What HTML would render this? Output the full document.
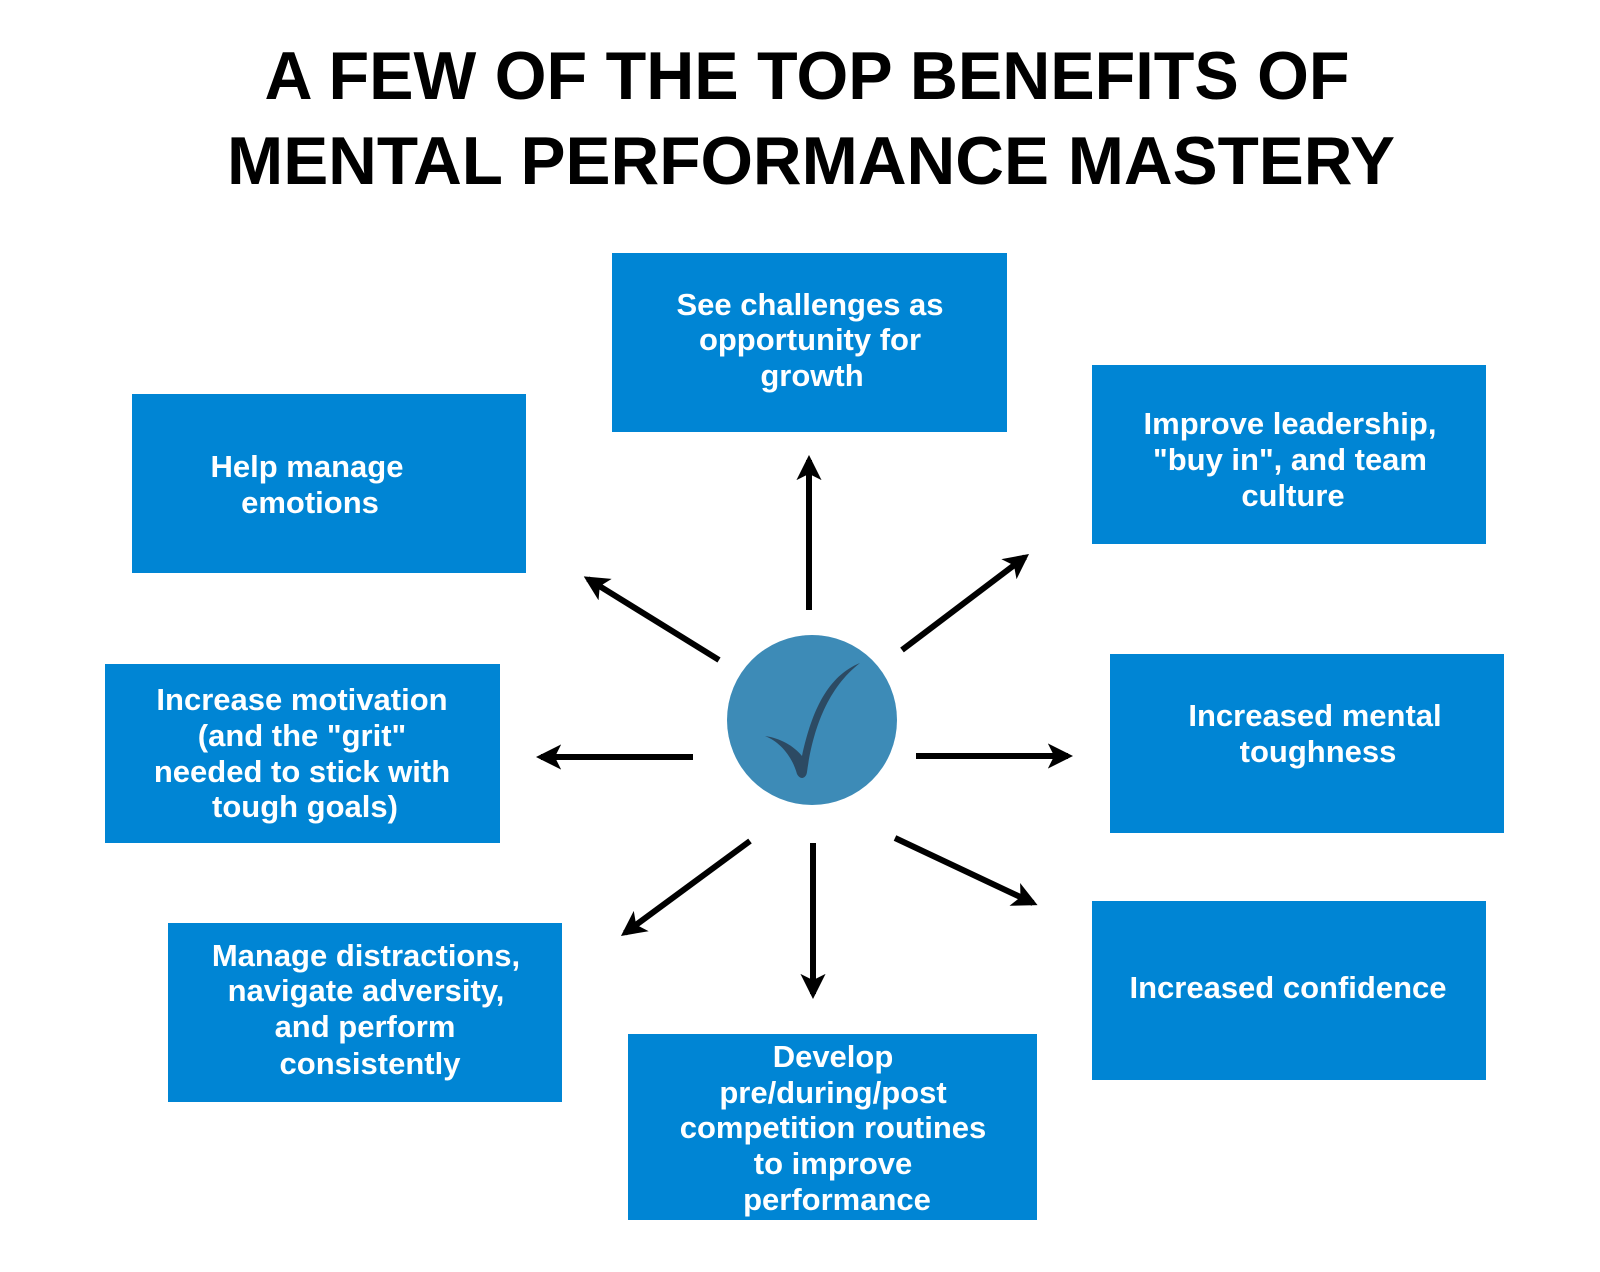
<!DOCTYPE html>
<html><head><meta charset="utf-8"><style>
html,body{margin:0;padding:0;background:#fff;}
svg{display:block;}
</style></head><body>
<svg width="1600" height="1272" viewBox="0 0 1600 1272" xmlns="http://www.w3.org/2000/svg" font-family="'Liberation Sans', sans-serif">
<defs>
<marker id="ah" viewBox="0 0 10 10" refX="8" refY="5" markerWidth="4.2" markerHeight="4.2" orient="auto" markerUnits="strokeWidth">
<path d="M0,0 L10,5 L0,10 L2.5,5 Z" fill="#000"/>
</marker>
</defs>
<g font-weight="bold" font-size="68" fill="#000" text-anchor="middle">
<text x="807" y="99" textLength="1085" lengthAdjust="spacingAndGlyphs">A FEW OF THE TOP BENEFITS OF</text>
<text x="811" y="184" textLength="1168" lengthAdjust="spacingAndGlyphs">MENTAL PERFORMANCE MASTERY</text>
</g>
<g fill="#0085d4">
<rect x="612" y="253" width="395" height="179"/>
<rect x="1092" y="365" width="394" height="179"/>
<rect x="132" y="394" width="394" height="179"/>
<rect x="1110" y="654" width="394" height="179"/>
<rect x="105" y="664" width="395" height="179"/>
<rect x="1092" y="901" width="394" height="179"/>
<rect x="168" y="923" width="394" height="179"/>
<rect x="628" y="1034" width="409" height="186"/>
</g>
<g fill="#fff" font-weight="bold" font-size="31" text-anchor="middle">
<text x="810" y="315">See challenges as</text>
<text x="810" y="350">opportunity for</text>
<text x="812" y="386">growth</text>
<text x="1290" y="434">Improve leadership,</text>
<text x="1290" y="470">"buy in", and team</text>
<text x="1293" y="506">culture</text>
<text x="307" y="477">Help manage</text>
<text x="310" y="513">emotions</text>
<text x="1315" y="726">Increased mental</text>
<text x="1318" y="762">toughness</text>
<text x="302" y="710">Increase motivation</text>
<text x="302" y="746">(and the "grit"</text>
<text x="302" y="782">needed to stick with</text>
<text x="305" y="817">tough goals)</text>
<text x="1288" y="998">Increased confidence</text>
<text x="366" y="966">Manage distractions,</text>
<text x="366" y="1001">navigate adversity,</text>
<text x="365" y="1037">and perform</text>
<text x="370" y="1074">consistently</text>
<text x="833" y="1067">Develop</text>
<text x="833" y="1103">pre/during/post</text>
<text x="833" y="1138">competition routines</text>
<text x="833" y="1174">to improve</text>
<text x="837" y="1210">performance</text>
</g>
<g stroke="#000" stroke-width="6" marker-end="url(#ah)" fill="none">
<line x1="809" y1="610" x2="809" y2="460"/>
<line x1="813" y1="843" x2="813" y2="994"/>
<line x1="916" y1="756" x2="1068" y2="756"/>
<line x1="693" y1="757" x2="541" y2="757"/>
<line x1="902" y1="650" x2="1025" y2="557"/>
<line x1="719" y1="660" x2="588" y2="579"/>
<line x1="895" y1="838" x2="1033" y2="903"/>
<line x1="750" y1="841" x2="625" y2="933"/>
</g>
<circle cx="812" cy="720" r="85" fill="#3d8bb7"/>
<path d="M765,736 C780,742 792,756 797,774 C800,780 806,779 807,772 C812,735 825,690 860,663 C828,676 812,710 802,756 C794,746 780,738 765,736 Z" fill="#2c4a63"/>
</svg>
</body></html>
